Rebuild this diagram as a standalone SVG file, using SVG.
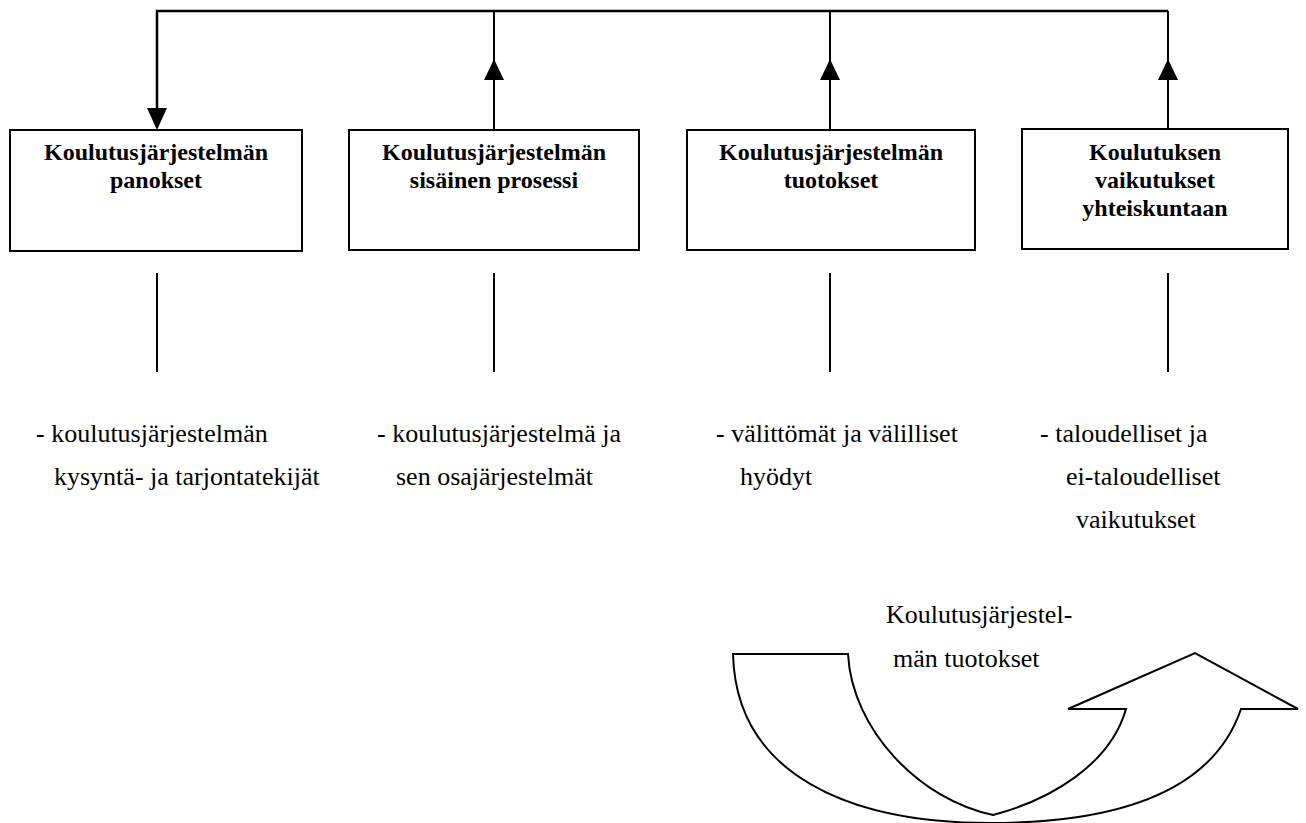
<svg xmlns="http://www.w3.org/2000/svg" width="1306" height="823" viewBox="0 0 1306 823">
<style>
.box{fill:#fff;stroke:#000;stroke-width:2}
.ln{fill:none;stroke:#000;stroke-width:2}
.top{fill:none;stroke:#000;stroke-width:2.5}
.hd{fill:#000;stroke:none}
.t{font-family:"Liberation Serif","Times New Roman",serif;font-size:24px;font-weight:bold;fill:#000;text-anchor:middle}
.r{font-family:"Liberation Serif","Times New Roman",serif;font-size:26px;fill:#000}
</style>
<rect width="1306" height="823" fill="#fff"/>
<g id="connectors">
<polyline class="top" points="157,110 157,11 1168,11"/>
<polygon class="hd" points="157,130 147,108 167,108"/>
<line class="ln" x1="494" y1="130" x2="494" y2="11"/>
<polygon class="hd" points="494,59 484,80 504,80"/>
<line class="ln" x1="830" y1="130" x2="830" y2="11"/>
<polygon class="hd" points="830,59 820,80 840,80"/>
<line class="ln" x1="1168" y1="129" x2="1168" y2="11"/>
<polygon class="hd" points="1168,59 1158,80 1178,80"/>
<line class="ln" x1="157" y1="273" x2="157" y2="372"/>
<line class="ln" x1="494" y1="273" x2="494" y2="372"/>
<line class="ln" x1="830" y1="273" x2="830" y2="372"/>
<line class="ln" x1="1168" y1="273" x2="1168" y2="372"/>
</g>
<g id="node1">
<rect class="box" x="10" y="130" width="292" height="121"/>
<text class="t" x="156" y="160">Koulutusjärjestelmän</text>
<text class="t" x="156" y="188">panokset</text>
</g>
<g id="node2">
<rect class="box" x="349" y="130" width="290" height="120"/>
<text class="t" x="494" y="160">Koulutusjärjestelmän</text>
<text class="t" x="494" y="188">sisäinen prosessi</text>
</g>
<g id="node3">
<rect class="box" x="687" y="130" width="288" height="120"/>
<text class="t" x="831" y="160">Koulutusjärjestelmän</text>
<text class="t" x="831" y="188">tuotokset</text>
</g>
<g id="node4">
<rect class="box" x="1022" y="129" width="266" height="120"/>
<text class="t" x="1155" y="160">Koulutuksen</text>
<text class="t" x="1155" y="188">vaikutukset</text>
<text class="t" x="1155" y="216">yhteiskuntaan</text>
</g>
<g id="desc1">
<text class="r" x="36" y="442">- koulutusjärjestelmän</text>
<text class="r" x="54" y="485">kysyntä- ja tarjontatekijät</text>
</g>
<g id="desc2">
<text class="r" x="377" y="442">- koulutusjärjestelmä ja</text>
<text class="r" x="396" y="485">sen osajärjestelmät</text>
</g>
<g id="desc3">
<text class="r" x="716" y="442">- välittömät ja välilliset</text>
<text class="r" x="740" y="485">hyödyt</text>
</g>
<g id="desc4">
<text class="r" x="1040" y="442">- taloudelliset ja</text>
<text class="r" x="1066" y="485">ei-taloudelliset</text>
<text class="r" x="1076" y="528">vaikutukset</text>
</g>
<g id="curved-arrow">
<path class="ln" stroke-width="1.5" d="M733,654 H848 C852,730 920,800 993,815 C1050,800 1110,765 1126,709 H1068 L1195,653 L1298,709 H1241 C1210,800 1100,823 990,823 C850,823 736,775 733,654 Z"/>
<text class="r" x="886" y="623">Koulutusjärjestel-</text>
<text class="r" x="893" y="667">män tuotokset</text>
</g>
</svg>
